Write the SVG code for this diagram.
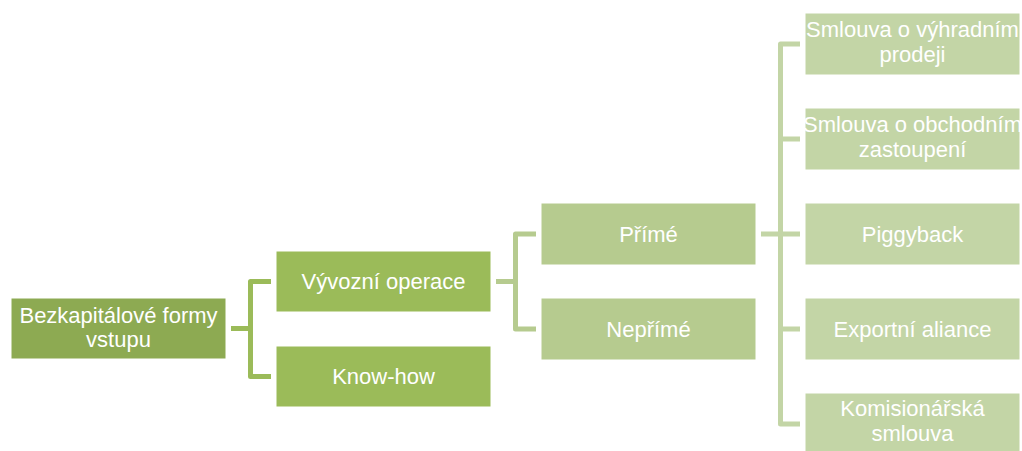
<svg xmlns="http://www.w3.org/2000/svg" width="1022" height="451" viewBox="0 0 1022 451">
<style>
.box{stroke:#ffffff;stroke-width:1}
.l1{fill:#8DAA52}
.l2{fill:#9BBB59}
.l3{fill:#B6CB8F}
.l4{fill:#C3D5A6}
.t{font-family:"Liberation Sans",Arial,sans-serif;font-size:22px;fill:#ffffff;text-anchor:middle}
.c{fill:none;stroke-width:5;stroke-linejoin:round}
.c1{stroke:#9BBB59}
.c2{stroke:#B6CB8F}
.c3{stroke:#C3D5A6}
</style>
<rect width="1022" height="451" fill="#ffffff"/>
<g id="connectors">
<path class="c c1" d="M231,328.5 H250.5"/>
<path class="c c1" d="M271,281.5 H250.5 V376.5 H271"/>
<path class="c c2" d="M496,281.5 H515.5"/>
<path class="c c2" d="M536,234 H515.5 V329 H536"/>
<path class="c c3" d="M761,234 H800"/>
<path class="c c3" d="M800,44 H780.5 V424 H800"/>
<path class="c c3" d="M780.5,139 H800 M780.5,329 H800"/>
</g>
<g id="root">
<rect class="box l1" x="11" y="298" width="215" height="61"/>
<text class="t" x="118.5" y="323">Bezkapitálové formy</text>
<text class="t" x="118.5" y="347">vstupu</text>
</g>
<g id="vyvozni">
<rect class="box l2" x="276" y="251" width="215" height="61"/>
<text class="t" x="383.5" y="289">Vývozní operace</text>
</g>
<g id="knowhow">
<rect class="box l2" x="276" y="346" width="215" height="61"/>
<text class="t" x="383.5" y="384">Know-how</text>
</g>
<g id="prime">
<rect class="box l3" x="541" y="203" width="215" height="62"/>
<text class="t" x="648.5" y="241.5">Přímé</text>
</g>
<g id="neprime">
<rect class="box l3" x="541" y="298" width="215" height="62"/>
<text class="t" x="648.5" y="336.5">Nepřímé</text>
</g>
<g id="vyhradni">
<rect class="box l4" x="805" y="13" width="215" height="62"/>
<text class="t" x="912.5" y="37">Smlouva o výhradním</text>
<text class="t" x="912.5" y="62">prodeji</text>
</g>
<g id="obchodni">
<rect class="box l4" x="805" y="108" width="215" height="62"/>
<text class="t" x="912.5" y="132">Smlouva o obchodním</text>
<text class="t" x="912.5" y="157">zastoupení</text>
</g>
<g id="piggyback">
<rect class="box l4" x="805" y="203" width="215" height="62"/>
<text class="t" x="912.5" y="241.5">Piggyback</text>
</g>
<g id="aliance">
<rect class="box l4" x="805" y="298" width="215" height="62"/>
<text class="t" x="912.5" y="336.5">Exportní aliance</text>
</g>
<g id="komisionarska">
<rect class="box l4" x="805" y="393" width="215" height="62"/>
<text class="t" x="912.5" y="416">Komisionářská</text>
<text class="t" x="912.5" y="441">smlouva</text>
</g>
</svg>
